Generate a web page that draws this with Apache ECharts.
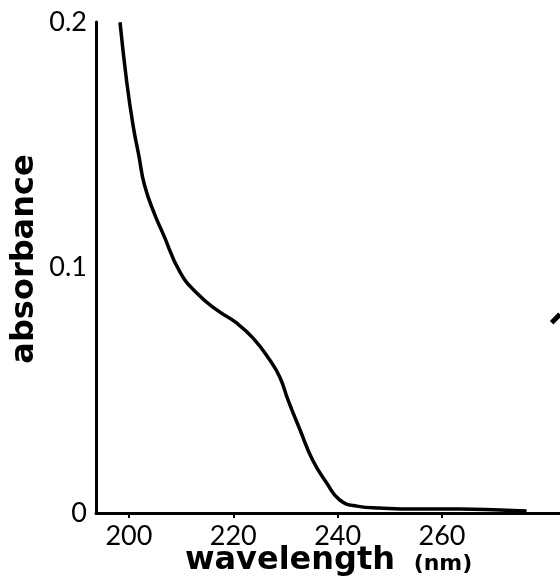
<!DOCTYPE html>
<html>
<head>
<meta charset="utf-8">
<script src="https://cdn.jsdelivr.net/npm/echarts@6/dist/echarts.min.js"></script>
<style>
  html, body { margin: 0; padding: 0; background: #fff; }
  #chart { width: 560px; height: 579px; }
</style>
</head>
<body>
<div id="chart"></div>
<script>
// 数据
var wavelength = [198.3, 199.6, 200.8, 201.9, 203.0, 205.0, 206.5, 209.8, 213.0, 216.9, 220.7, 223.8,
    227.0, 228.9, 230.5, 232.8, 235.2, 237.9, 240.4, 243.7, 248.1, 255.7, 263.4, 271.1, 276.2];
var absorbance = [0.1999, 0.1754, 0.1579, 0.1457, 0.1335, 0.1213, 0.1140, 0.0981, 0.0896, 0.0826, 0.0773, 0.0712,
    0.0623, 0.0554, 0.0460, 0.0338, 0.0216, 0.0122, 0.0053, 0.0028, 0.0020, 0.0016, 0.0016, 0.0012, 0.0008];
// 右边被裁掉的另一条曲线的一小段
var edgeX = [281.0, 282.6];
var edgeY = [0.0775, 0.0810];
var xTicks = [200, 220, 240, 260];

function pairs(xs, ys) {
    var out = [];
    for (var i = 0; i < xs.length; i++) {
        out.push([xs[i], ys[i]]);
    }
    return out;
}

var tickFont = 'Lato';
var titleFont = 'DejaVu Sans';

var option = {
    animation: false,
    grid: { left: 96, top: 22, right: 0, bottom: 66 },
    xAxis: {
        type: 'value',
        min: 193.7,
        max: 282.6,
        axisLine: { lineStyle: { color: '#000', width: 3 } },
        axisTick: { show: true, customValues: xTicks, length: 5,
            lineStyle: { color: '#000', width: 2 } },
        axisLabel: { customValues: xTicks, color: '#000', fontSize: 27, fontFamily: tickFont,
            margin: 10 },
        splitLine: { show: false }
    },
    yAxis: {
        type: 'value',
        min: 0,
        max: 0.2,
        interval: 0.1,
        axisLine: { show: true, lineStyle: { color: '#000', width: 3 } },
        axisTick: { show: false },
        axisLabel: {
            color: '#000', fontSize: 27, fontFamily: tickFont, margin: 9,
            formatter: function (v) { return v === 0 ? '0' : v.toFixed(1); }
        },
        splitLine: { show: false }
    },
    graphic: [
        {
            type: 'text', x: 25, y: 259, rotation: Math.PI / 2,
            style: { text: 'absorbance', font: 'bold 32px "' + titleFont + '"', fill: '#000',
                align: 'center', verticalAlign: 'middle' }
        },
        {
            type: 'text', x: 290, y: 561,
            style: { text: 'wavelength', font: 'bold 32px "' + titleFont + '"', fill: '#000',
                align: 'center', verticalAlign: 'middle' }
        },
        {
            type: 'text', x: 443, y: 564,
            style: { text: '(nm)', font: 'bold 22px "' + titleFont + '"', fill: '#000',
                align: 'center', verticalAlign: 'middle' }
        }
    ],
    series: [
        {
            type: 'line',
            data: pairs(wavelength, absorbance),
            smooth: 0.5,
            showSymbol: false,
            lineStyle: { color: '#000', width: 3.5 }
        },
        {
            type: 'line',
            data: pairs(edgeX, edgeY),
            showSymbol: false,
            lineStyle: { color: '#000', width: 5 }
        }
    ]
};

var chart = echarts.init(document.getElementById('chart'));
chart.setOption(option);
</script>
</body>
</html>
